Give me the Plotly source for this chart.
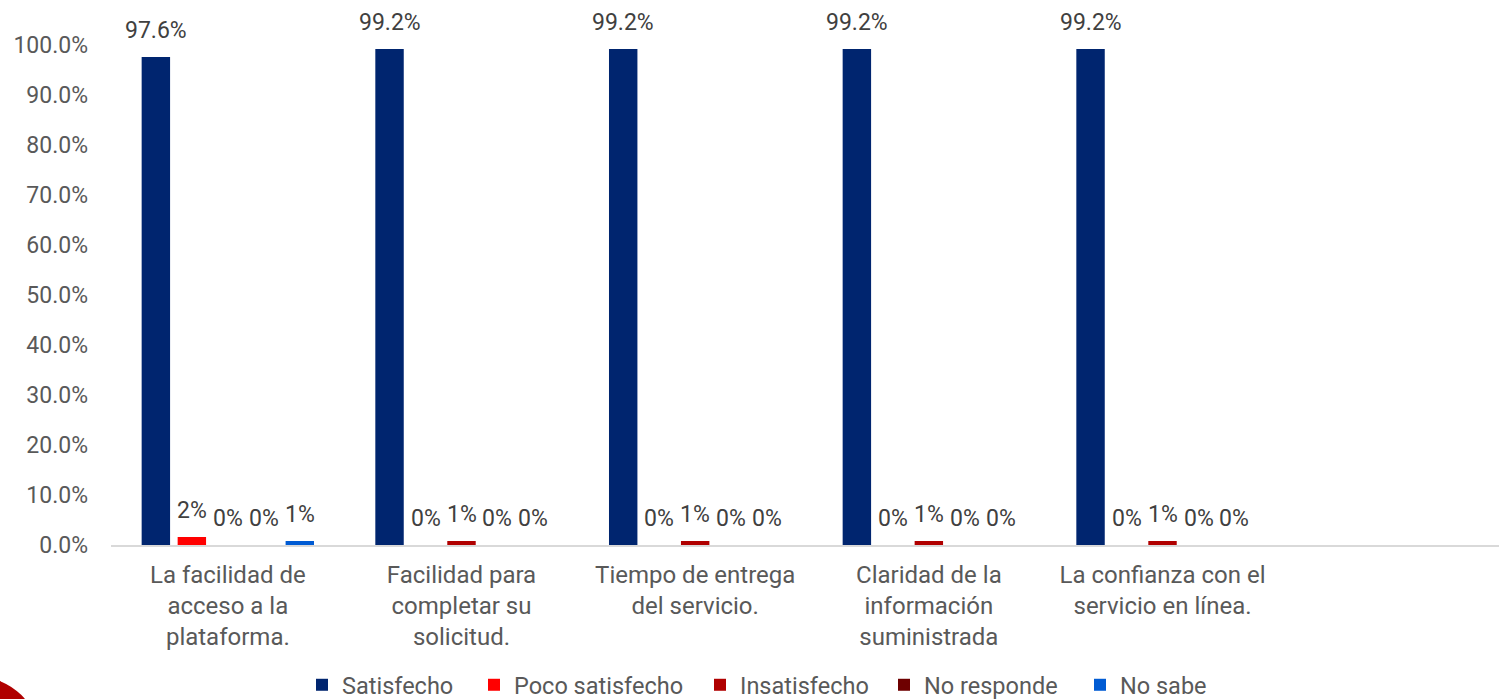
import plotly.graph_objects as go

categories = [
    "La facilidad de<br>acceso a la<br>plataforma.",
    "Facilidad para<br>completar su<br>solicitud.",
    "Tiempo de entrega<br>del servicio.",
    "Claridad de la<br>información<br>suministrada",
    "La confianza con el<br>servicio en línea.",
]
series_names = ["Satisfecho", "Poco satisfecho", "Insatisfecho", "No responde", "No sabe"]
satisfecho = [97.6, 99.2, 99.2, 99.2, 99.2]
poco_satisfecho = [1.6, 0.0, 0.0, 0.0, 0.0]
insatisfecho = [0.0, 0.8, 0.8, 0.8, 0.8]
no_responde = [0.0, 0.0, 0.0, 0.0, 0.0]
no_sabe = [0.8, 0.0, 0.0, 0.0, 0.0]
y_ticks = [0, 10, 20, 30, 40, 50, 60, 70, 80, 90, 100]

series_values = [satisfecho, poco_satisfecho, insatisfecho, no_responde, no_sabe]
colors = ["#00256F", "#FF0000", "#B00000", "#6E0000", "#005BD3"]
label_formats = ["{:.1f}%", "{:.0f}%", "{:.0f}%", "{:.0f}%", "{:.0f}%"]

W, H = 1499, 699
ML, MT, MB = 111, 45, 154
PW, PH = W - ML, H - MT - MB

FONT = "Roboto"
TEXT_COLOR = "#595959"
LABEL_COLOR = "#404040"
BAR_GAP = 0.23
GROUP_GAP = 0.21

# left edge (px) of each legend entry along the bottom row
legend_left = [302, 474, 700, 884, 1080]
legend_names = ["legend", "legend2", "legend3", "legend4", "legend5"]

fig = go.Figure()
for name, vals, col, lg in zip(series_names, series_values, colors, legend_names):
    fig.add_trace(go.Bar(
        x=list(range(len(categories))), y=vals, name=name,
        marker=dict(color=col, line=dict(width=0)), legend=lg,
    ))

# value labels centred above each bar of the group
n = len(series_names)
pitch = (1 - BAR_GAP) / n
annotations = []
for j, (vals, fmt) in enumerate(zip(series_values, label_formats)):
    for i, v in enumerate(vals):
        annotations.append(dict(
            x=i + (j - (n - 1) / 2) * pitch, y=v, xref="x", yref="y",
            text=fmt.format(v), showarrow=False, yanchor="middle", yshift=27,
            font=dict(family=FONT, size=23, color=LABEL_COLOR),
        ))

legend_style = dict(
    orientation="h", xref="container", yref="container", xanchor="left",
    y=(H - 685) / H, yanchor="middle", borderwidth=0, bgcolor="rgba(0,0,0,0)",
    font=dict(family=FONT, size=23.5, color=TEXT_COLOR), itemclick=False,
)
legends = {lg: dict(legend_style, x=px / W) for lg, px in zip(legend_names, legend_left)}

fig.update_layout(
    width=W, height=H,
    margin=dict(l=ML, r=0, t=MT, b=MB, autoexpand=False),
    paper_bgcolor="white", plot_bgcolor="white",
    barmode="group", bargap=BAR_GAP, bargroupgap=GROUP_GAP,
    font=dict(family=FONT, size=23, color=TEXT_COLOR),
    annotations=annotations,
    showlegend=True,
    **legends,
    shapes=[dict(
        type="circle", xref="paper", yref="paper",
        x0=(-83 - ML) / PW, x1=(39 - ML) / PW,
        y0=(H - MB - 799) / PH, y1=(H - MB - 677) / PH,
        fillcolor="#B00000", line=dict(width=0), layer="above",
    )],
)
fig.update_xaxes(
    tickmode="array", tickvals=list(range(len(categories))), ticktext=categories,
    range=[-0.5, 5.44], showline=True, linecolor="#D9D9D9", linewidth=2,
    showgrid=False, zeroline=False, ticks="", tickangle=0, automargin=False,
    ticklabelstandoff=7,
    tickfont=dict(family=FONT, size=24, color=TEXT_COLOR),
)
fig.update_yaxes(
    range=[0, 100], tickvals=y_ticks, ticktext=[f"{t:.1f}%" for t in y_ticks],
    showgrid=False, zeroline=False, showline=False, ticks="", automargin=False,
    ticklabelstandoff=22,
    tickfont=dict(family=FONT, size=23, color=TEXT_COLOR),
)

fig.write_html("out.html")
